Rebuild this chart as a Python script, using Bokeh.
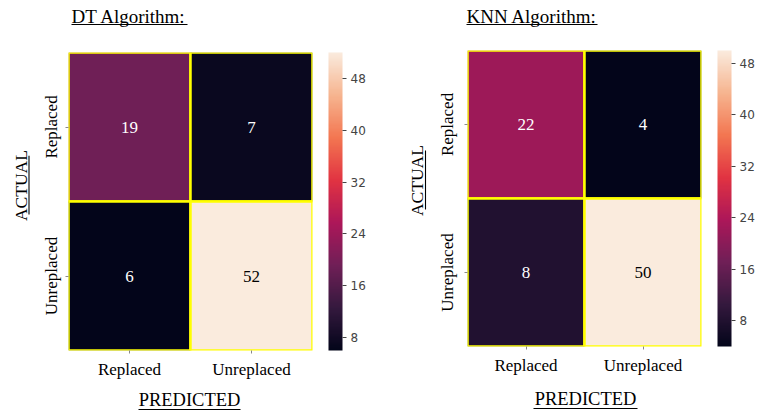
import numpy as np
from bokeh.plotting import figure
from bokeh.models import (ColumnDataSource, LinearColorMapper, ColorBar, FixedTicker,
                          FactorRange, Range1d)
from bokeh.layouts import row, column
from bokeh.embed import file_html
from bokeh.resources import INLINE
from bokeh.core.properties import value

# Confusion matrices: rows are actual classes, columns are predicted classes
classes = ["Replaced", "Unreplaced"]
dt_counts = [[19, 7],
             [6, 52]]
knn_counts = [[22, 4],
              [8, 50]]
dt_title = "DT Algorithm:"
knn_title = "KNN Algorithm:"
dt_bar_ticks = [8, 16, 24, 32, 40, 48]
knn_bar_ticks = [8, 16, 24, 32, 40, 48]
x_label = "PREDICTED"
y_label = "ACTUAL"

# "rocket" style sequential colormap, interpolated from anchor colours
rocket_anchors = ["#03051a", "#35193e", "#701f57", "#ad1759",
                  "#e13342", "#f37651", "#f6b48f", "#faebdd"]


def build_palette(anchors, n=256):
    rgb = np.array([[int(c[i:i + 2], 16) for i in (1, 3, 5)] for c in anchors], float)
    pos = np.linspace(0, 1, len(anchors))
    t = np.linspace(0, 1, n)
    out = []
    for k in range(n):
        r, g, b = (np.interp(t[k], pos, rgb[:, j]) for j in range(3))
        out.append("#%02x%02x%02x" % (int(round(r)), int(round(g)), int(round(b))))
    return out


PALETTE = build_palette(rocket_anchors)
SERIF = "Liberation Serif"
HEIGHT = 414
TOP_H = 40      # strip holding the chart title
BOTTOM_H = 28   # strip holding the x-axis caption


def luminance(hex_color):
    c = [int(hex_color[i:i + 2], 16) / 255 for i in (1, 3, 5)]
    c = [x / 12.92 if x <= 0.03928 else ((x + 0.055) / 1.055) ** 2.4 for x in c]
    return 0.2126 * c[0] + 0.7152 * c[1] + 0.0722 * c[2]


def strip(w, h):
    """Blank figure used for captions; its data units are pixels (y upwards)."""
    s = figure(width=w, height=h, x_range=Range1d(0, w), y_range=Range1d(0, h),
               output_backend="svg", toolbar_location=None, min_border=0,
               x_axis_location=None, y_axis_location=None)
    s.outline_line_color = None
    s.grid.visible = False
    return s


def caption(s, text, x, y, align="left", angle=0.0, size="19px"):
    s.text(x=[x], y=[y], text=[text], angle=angle, text_font=value(SERIF),
           text_font_size=size, text_color="black", text_align=align,
           text_baseline="middle")


def underline(s, x0, y0, x1, y1):
    s.segment(x0=[x0], y0=[y0], x1=[x1], y1=[y1], line_color="black", line_width=1.1)


def heatmap(counts, bar_ticks, width, left, right, top, bottom, ylab_standoff):
    flat = [v for r in counts for v in r]
    low, high = min(flat), max(flat)
    mapper = LinearColorMapper(palette=PALETTE, low=low, high=high)

    pred, act, val, txt, tcol = [], [], [], [], []
    for i, a in enumerate(classes):
        for j, pcls in enumerate(classes):
            v = counts[i][j]
            pred.append(pcls)
            act.append(a)
            val.append(v)
            txt.append(str(v))
            idx = int(round((v - low) / (high - low) * (len(PALETTE) - 1)))
            tcol.append("black" if luminance(PALETTE[idx]) > 0.408 else "white")
    src = ColumnDataSource(dict(pred=pred, act=act, val=val, txt=txt, tcol=tcol))

    h = HEIGHT - TOP_H - BOTTOM_H
    p = figure(width=width, height=h,
               x_range=FactorRange(*classes), y_range=FactorRange(*reversed(classes)),
               output_backend="svg", toolbar_location=None,
               min_border_left=left, min_border_right=right,
               min_border_top=top, min_border_bottom=bottom)

    p.rect(x="pred", y="act", width=1, height=1, source=src,
           fill_color={"field": "val", "transform": mapper},
           line_color="#ffff00", line_width=2.5)
    p.text(x="pred", y="act", text="txt", source=src, text_color="tcol",
           text_font=value(SERIF), text_font_size="17px",
           text_align="center", text_baseline="middle")

    p.outline_line_color = None
    p.grid.visible = False
    for ax in (p.xaxis[0], p.yaxis[0]):
        ax.axis_line_color = None
        ax.major_tick_in = 0
        ax.major_tick_out = 3
        ax.major_tick_line_color = "#888888"
        ax.major_label_text_font = SERIF
        ax.major_label_text_font_size = "17px"
        ax.major_label_text_color = "black"
    p.yaxis.major_label_orientation = "vertical"
    p.xaxis.major_label_standoff = 6
    p.yaxis.major_label_standoff = ylab_standoff

    cb = ColorBar(color_mapper=mapper, ticker=FixedTicker(ticks=bar_ticks),
                  width=14, padding=0, location=(16, 0), bar_line_color=None,
                  border_line_color=None, background_fill_color=None,
                  major_tick_in=0, major_tick_out=4, major_tick_line_color="#444444",
                  major_label_text_font="DejaVu Sans",
                  major_label_text_font_size="12px",
                  major_label_text_color="#444444", label_standoff=4)
    p.add_layout(cb, "right")
    return p


def panel(title, counts, bar_ticks, width, side_w, frame_left, frame_right, frame_top,
          frame_bottom, ylab_standoff, title_x, title_y, title_ul, ylab_x, ylab_y,
          ylab_ul, xlab_x, xlab_y, xlab_ul):
    mid_h = HEIGHT - TOP_H - BOTTOM_H

    top = strip(width, TOP_H)
    caption(top, title, title_x, TOP_H - title_y)
    underline(top, title_ul[0], TOP_H - title_ul[2], title_ul[1], TOP_H - title_ul[2])

    side = strip(side_w, mid_h)
    caption(side, y_label, ylab_x, mid_h - (ylab_y - TOP_H), align="center",
            angle=np.pi / 2, size="17.5px")
    underline(side, ylab_ul[2], mid_h - (ylab_ul[0] - TOP_H),
              ylab_ul[2], mid_h - (ylab_ul[1] - TOP_H))

    hm = heatmap(counts, bar_ticks, width - side_w,
                 frame_left - side_w, width - frame_right,
                 frame_top - TOP_H, (HEIGHT - BOTTOM_H) - frame_bottom, ylab_standoff)

    bot = strip(width, BOTTOM_H)
    caption(bot, x_label, xlab_x, HEIGHT - xlab_y, align="center", size="18.5px")
    underline(bot, xlab_ul[0], HEIGHT - xlab_ul[2], xlab_ul[1], HEIGHT - xlab_ul[2])

    return column(top, row(side, hm), bot)


left_panel = panel(dt_title, dt_counts, dt_bar_ticks, 378, 36, 68, 312, 52, 350, 5,
                   71, 16, (71, 187, 24), 20.5, 194.5, (160, 228, 28.5),
                   189, 399.5, (138, 240, 409))
right_panel = panel(knn_title, knn_counts, knn_bar_ticks, 379, 56, 88, 329, 50, 346, 8,
                    88, 16, (88, 219, 24), 38.5, 192, (157, 226, 47),
                    207, 398.5, (155, 259, 408))

layout = row(left_panel, right_panel)
open("out.html", "w").write(file_html(layout, INLINE))
